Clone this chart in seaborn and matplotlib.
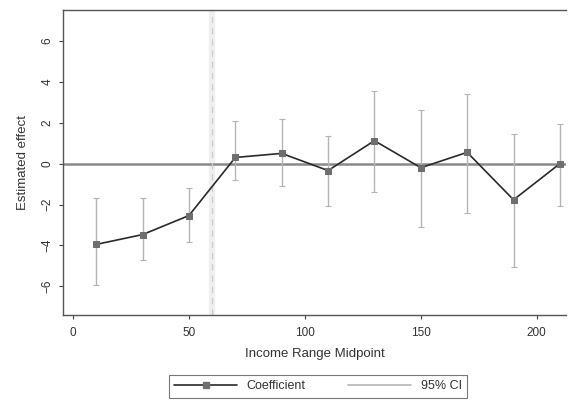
import matplotlib
matplotlib.use("Agg")
import matplotlib.pyplot as plt
from matplotlib.lines import Line2D
import seaborn as sns
import pandas as pd

# Income range midpoints (thousands) and estimated effects with 95% CI
midpoints = [10, 30, 50, 70, 90, 110, 130, 150, 170, 190, 210]
coefficient = [-3.95, -3.47, -2.54, 0.30, 0.50, -0.34, 1.12, -0.20, 0.55, -1.77, 0.00]
ci_low = [-5.95, -4.70, -3.85, -0.80, -1.10, -2.05, -1.40, -3.10, -2.40, -5.07, -2.05]
ci_high = [-1.66, -1.70, -1.20, 2.10, 2.20, 1.37, 3.56, 2.60, 3.40, 1.45, 1.95]
threshold = 60
yticks = [-6, -4, -2, 0, 2, 4, 6]
xticks = [0, 50, 100, 150, 200]

df = pd.DataFrame({"mid": midpoints, "coef": coefficient,
                   "lo": ci_low, "hi": ci_high})

sns.set_style("white")
plt.rcParams["font.family"] = ["Liberation Sans", "DejaVu Sans"]

fig = plt.figure(figsize=(5.68, 4.08), dpi=100)
ax = fig.add_axes([0.111, 0.228, 0.885, 0.747])

# confidence intervals with small caps
ax.errorbar(df["mid"], df["coef"],
            yerr=[df["coef"] - df["lo"], df["hi"] - df["coef"]],
            fmt="none", ecolor="#b4b4b4", elinewidth=1.0, capsize=2.5,
            capthick=0.8, zorder=2)

# zero reference line and income threshold
ax.axhline(0, color="#8a8a8a", lw=1.8, zorder=1)
ax.axvline(threshold, color="#efefef", lw=4.5, zorder=0)
ax.axvline(threshold, color="#cccccc", lw=0.9, ls=(0, (5, 4)), zorder=1)

sns.lineplot(data=df, x="mid", y="coef", ax=ax, color="#2a2a2a", lw=1.2,
             marker="s", markersize=5, markerfacecolor="#6e6e6e",
             markeredgecolor="#6e6e6e", zorder=3)

ax.set_xlim(-4.3, 212.5)
ax.set_ylim(-7.4, 7.5)
ax.set_xticks(xticks)
ax.set_yticks(yticks)
ax.tick_params(axis="both", length=3, width=0.8, color="#444444",
               labelsize=8.5, labelcolor="#333333", bottom=True, left=True)
ax.tick_params(axis="x", pad=6)
ax.tick_params(axis="y", pad=4)
plt.setp(ax.get_yticklabels(), rotation=90, va="center")
ax.set_xlabel("Income Range Midpoint", fontsize=9.5, color="#333333", labelpad=6)
ax.set_ylabel("Estimated effect", fontsize=9.5, color="#333333", labelpad=9)

for side in ["left", "bottom", "top"]:
    ax.spines[side].set_color("#555555")
    ax.spines[side].set_linewidth(1.0)
ax.spines["right"].set_visible(False)

handles = [
    Line2D([], [], color="#2a2a2a", lw=1.2, marker="s", markersize=4,
           markerfacecolor="#6e6e6e", markeredgecolor="#6e6e6e"),
    Line2D([], [], color="#b4b4b4", lw=1.2),
]
leg = fig.legend(handles, ["Coefficient", "95% CI"], loc="center",
                 bbox_to_anchor=(0.56, 0.053), ncol=2, fontsize=9,
                 frameon=True, fancybox=False, handlelength=5.0,
                 handletextpad=0.8, columnspacing=3.4, borderpad=0.45)
leg.get_frame().set_edgecolor("#555555")
leg.get_frame().set_linewidth(0.8)
for t in leg.get_texts():
    t.set_color("#333333")

fig.savefig("out.png", dpi=100, facecolor="white")
